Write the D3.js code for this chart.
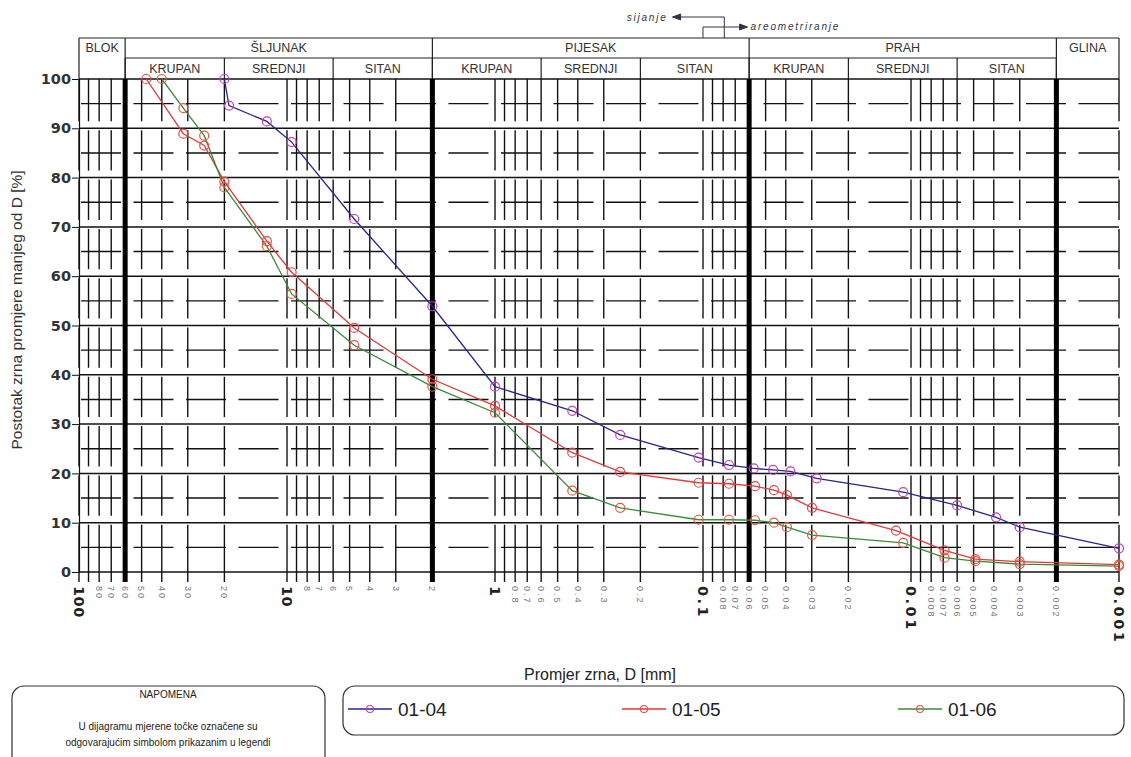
<!DOCTYPE html>
<html><head><meta charset="utf-8">
<script src="https://cdn.jsdelivr.net/npm/d3@7"></script>
<style>
body{margin:0;background:#fff;}
svg{display:block;font-family:"Liberation Sans",Arial,sans-serif;}
</style></head><body>
<svg id="c" width="1131" height="757"></svg>
<script>
// ---------- DATA ----------
const seriesNames = ["01-04","01-05","01-06"];
const s0104 = [[20,100],[19,94.6],[12.5,91.4],[9.5,87.2],[4.75,71.6],[2,53.9],[1,37.6],[0.425,32.7],[0.25,27.8],[0.105,23.2],[0.075,21.7],[0.057,21.0],[0.046,20.7],[0.038,20.4],[0.0284,19.0],[0.0109,16.2],[0.006,13.5],[0.0039,11.1],[0.003,9.1],[0.001,4.8]];
const s0105 = [[47.5,100],[31.5,88.9],[25,86.5],[20,79.2],[12.5,67.1],[9.5,60.8],[4.75,49.5],[2,39.1],[1,33.7],[0.425,24.2],[0.25,20.3],[0.105,18.1],[0.075,17.9],[0.0562,17.4],[0.0456,16.6],[0.0395,15.6],[0.0299,13.0],[0.0118,8.4],[0.0069,4.4],[0.0049,2.6],[0.003,2.1],[0.001,1.5]];
const s0106 = [[40,100],[31.5,94.1],[25,88.5],[20,78.0],[12.5,66.1],[9.5,56.4],[4.75,46.0],[2,37.6],[1,32.3],[0.425,16.5],[0.25,13.0],[0.105,10.6],[0.075,10.6],[0.0562,10.5],[0.0456,10.0],[0.0395,9.1],[0.0299,7.5],[0.0109,5.9],[0.0069,2.9],[0.0049,2.2],[0.003,1.6],[0.001,1.2]];
const lineColors = ["#26268f","#e03a3a","#3a8a3a"];
const markerColors = ["#c040b0","#e04848","#e05a40"];

const yTicks = [0,10,20,30,40,50,60,70,80,90,100];
const yHalfTicks = [5,15,25,35,45,55,65,75,85,95];
const majorTickValues = [100,10,1,0.1,0.01,0.001];
const majorTickLabels = ["100","10","1","0.1","0.01","0.001"];
const minorTickValues = [80,70,60,50,40,30,20,8,7,6,5,4,3,2,0.8,0.7,0.6,0.5,0.4,0.3,0.2,0.08,0.07,0.06,0.05,0.04,0.03,0.02,0.008,0.007,0.006,0.005,0.004,0.003,0.002];
const minorTickLabels = ["80","70","60","50","40","30","20","8","7","6","5","4","3","2","0.8","0.7","0.6","0.5","0.4","0.3","0.2","0.08","0.07","0.06","0.05","0.04","0.03","0.02","0.008","0.007","0.006","0.005","0.004","0.003","0.002"];

const fractionNames = ["BLOK","ŠLJUNAK","PIJESAK","PRAH","GLINA"];
const fractionBounds = [100,60,2,0.06,0.002,0.001];
const subNames = ["KRUPAN","SREDNJI","SITAN","KRUPAN","SREDNJI","SITAN","KRUPAN","SREDNJI","SITAN"];
const subBounds = [60,20,6,2,0.6,0.2,0.06,0.02,0.006,0.002];
const thickBounds = [60,2,0.06,0.002];

// ---------- SCALES ----------
const svg = d3.select("#c");
const x = d3.scaleLog().domain([100,0.001]).range([79,1119]);
const y = d3.scaleLinear().domain([0,100]).range([572,79]);
const hTop = 38, hMid = 58;

// all grid x-values (1..9 × 10^e)
const gridVals = [];
for (let e=1;e>=-3;e--) for (let m=10;m>=1;m--) { const v=m*Math.pow(10,e); if (v<=100.0001 && v>=0.00099) gridVals.push(+v.toPrecision(3)); }
const gridUnique = Array.from(new Set(gridVals));

const g = svg.append("g");

// horizontal half lines (dashed)
g.selectAll("line.hh").data(yHalfTicks).join("line")
  .attr("x1",x(100)+2).attr("x2",x(0.001)).attr("y1",d=>y(d)).attr("y2",d=>y(d))
  .attr("stroke","#111").attr("stroke-width",1.4).attr("stroke-dasharray","40,12.5");

// vertical minor lines, broken near every 10% line
const bands = d3.range(0,100,10);
gridUnique.forEach(v=>{
  if (thickBounds.includes(v)) return;
  bands.forEach(b=>{
    const yTop = y(b+10) + (b===90?0:2);
    const yBot = b===0 ? y(0)+10 : y(b)-7;
    g.append("line").attr("x1",x(v)).attr("x2",x(v)).attr("y1",yTop).attr("y2",yBot)
      .attr("stroke","#111").attr("stroke-width",1.4);
  });
});

// horizontal 10 lines
g.selectAll("line.h10").data(yTicks).join("line")
  .attr("x1",x(100)).attr("x2",x(0.001)).attr("y1",d=>y(d)).attr("y2",d=>y(d))
  .attr("stroke","#111").attr("stroke-width",1.5);

// thick boundary lines
g.selectAll("line.thick").data(thickBounds).join("line")
  .attr("x1",d=>x(d)).attr("x2",d=>x(d)).attr("y1",y(100)).attr("y2",y(0)+10)
  .attr("stroke","#000").attr("stroke-width",5);

// left axis
const yAxis = d3.axisLeft(y).tickValues(yTicks).tickSize(7).tickFormat(d3.format("d"));
const ya = svg.append("g").attr("transform",`translate(${x(100)},0)`).call(yAxis);
ya.select(".domain").attr("stroke","#111").attr("stroke-width",1.2);
ya.selectAll(".tick line").attr("stroke","#111");
ya.selectAll(".tick text").attr("font-family","DejaVu Sans").attr("font-weight","bold")
  .attr("font-size",14.5).attr("fill","#333").attr("x",-8);

// bottom tick labels
const xl = svg.append("g");
xl.selectAll("text.maj").data(majorTickValues).join("text")
  .attr("transform",(d)=>`translate(${x(d)},586) rotate(90)`)
  .attr("dy","0.36em").attr("font-family","DejaVu Sans").attr("font-weight","bold")
  .attr("font-size",14.5).attr("letter-spacing",(d,i)=>i>2?2.5:0.5).attr("fill","#222")
  .text((d,i)=>majorTickLabels[i]);
xl.selectAll("text.min").data(minorTickValues).join("text")
  .attr("transform",(d)=>`translate(${x(d)},586) rotate(90)`)
  .attr("dy","0.36em").attr("font-size",9).attr("letter-spacing",2).attr("fill","#777")
  .text((d,i)=>minorTickLabels[i]);

// ---------- HEADER TABLE ----------
const hdr = svg.append("g").attr("stroke","#222").attr("stroke-width",1.2);
hdr.append("line").attr("x1",x(100)).attr("x2",x(0.001)).attr("y1",hTop).attr("y2",hTop);
hdr.append("line").attr("x1",x(60)).attr("x2",x(0.002)).attr("y1",hMid).attr("y2",hMid);
hdr.selectAll("line.fb").data(fractionBounds).join("line")
  .attr("x1",d=>x(d)).attr("x2",d=>x(d)).attr("y1",hTop).attr("y2",y(100));
hdr.selectAll("line.sb").data(subBounds).join("line")
  .attr("x1",d=>x(d)).attr("x2",d=>x(d)).attr("y1",hMid).attr("y2",y(100));
const ht = svg.append("g").attr("font-size",12.5).attr("fill","#333").attr("text-anchor","middle");
ht.selectAll("text.f").data(fractionNames).join("text")
  .attr("x",(d,i)=>(x(fractionBounds[i])+x(fractionBounds[i+1]))/2)
  .attr("y",hTop+14).text(d=>d);
ht.selectAll("text.s").data(subNames).join("text")
  .attr("x",(d,i)=>(x(subBounds[i])+x(subBounds[i+1]))/2)
  .attr("y",hMid+15).text(d=>d);

// sieving / hydrometer annotation
const ann = svg.append("g").attr("stroke","#334").attr("stroke-width",1).attr("fill","none");
const xs1 = x(0.1), xs2 = x(0.079), xa = x(0.14), xb = x(0.066);
ann.append("path").attr("d",`M${xs2},${hTop} V17 H${xa}`);
ann.append("path").attr("d",`M${xa},17 l8,-3 v6 z`).attr("fill","#334");
ann.append("path").attr("d",`M${xs1},${hTop} V27 H${xb}`);
ann.append("path").attr("d",`M${xb+7},27 l-8,-3 v6 z`).attr("fill","#334");
svg.append("text").attr("x",xa-5).attr("y",21).attr("text-anchor","end")
  .attr("font-size",10).attr("font-style","italic").attr("letter-spacing",1.8).attr("fill","#334").text("sijanje");
svg.append("text").attr("x",xb+10).attr("y",30)
  .attr("font-size",10).attr("font-style","italic").attr("letter-spacing",1.8).attr("fill","#334").text("areometriranje");

// ---------- SERIES ----------
const allSeries = [s0104,s0105,s0106];
const line = d3.line().x(d=>x(d[0])).y(d=>y(d[1]));
allSeries.forEach((s,i)=>{
  svg.append("path").datum(s).attr("d",line).attr("fill","none")
    .attr("stroke",lineColors[i]).attr("stroke-width",1.3);
});
allSeries.forEach((s,i)=>{
  svg.append("g").selectAll("circle").data(s).join("circle")
    .attr("cx",d=>x(d[0])).attr("cy",d=>y(d[1])).attr("r",4.5)
    .attr("fill","none").attr("stroke",markerColors[i]).attr("stroke-width",1.2);
});

// ---------- AXIS TITLES ----------
svg.append("text").attr("transform",`translate(22,310) rotate(-90)`)
  .attr("text-anchor","middle").attr("font-size",15.5).attr("fill","#333")
  .text("Postotak zrna promjere manjeg od D [%]");
svg.append("text").attr("x",600).attr("y",680).attr("text-anchor","middle")
  .attr("font-family","'Liberation Sans Narrow','Liberation Sans',sans-serif")
  .attr("font-size",16).attr("fill","#222").text("Promjer zrna, D [mm]");

// ---------- LEGEND / NOTE ----------
svg.append("rect").attr("x",12).attr("y",686).attr("width",313).attr("height",90).attr("rx",12)
  .attr("fill","none").attr("stroke","#333").attr("stroke-width",1.2);
const nt = svg.append("g").attr("text-anchor","middle").attr("fill","#222")
  .attr("font-family","'Liberation Sans Narrow','Liberation Sans',sans-serif").attr("font-size",10);
nt.append("text").attr("x",168).attr("y",698).text("NAPOMENA");
nt.append("text").attr("x",168).attr("y",730).text("U dijagramu mjerene točke označene su");
nt.append("text").attr("x",168).attr("y",746).text("odgovarajućim simbolom prikazanim u legendi");

svg.append("rect").attr("x",343).attr("y",686).attr("width",781).attr("height",49).attr("rx",12)
  .attr("fill","none").attr("stroke","#333").attr("stroke-width",1.2);
const legX = [348,622,898];
seriesNames.forEach((n,i)=>{
  const lg = svg.append("g").attr("transform",`translate(${legX[i]},709)`);
  lg.append("line").attr("x1",0).attr("x2",44).attr("stroke",lineColors[i]).attr("stroke-width",1.3);
  lg.append("circle").attr("cx",22).attr("r",3.5).attr("fill","none").attr("stroke",markerColors[i]).attr("stroke-width",1.1);
  lg.append("text").attr("x",50).attr("y",7).attr("font-size",19).attr("fill","#222")
    .attr("font-family","'Liberation Sans Narrow','Liberation Sans',sans-serif").text(n);
});
</script></body></html>
